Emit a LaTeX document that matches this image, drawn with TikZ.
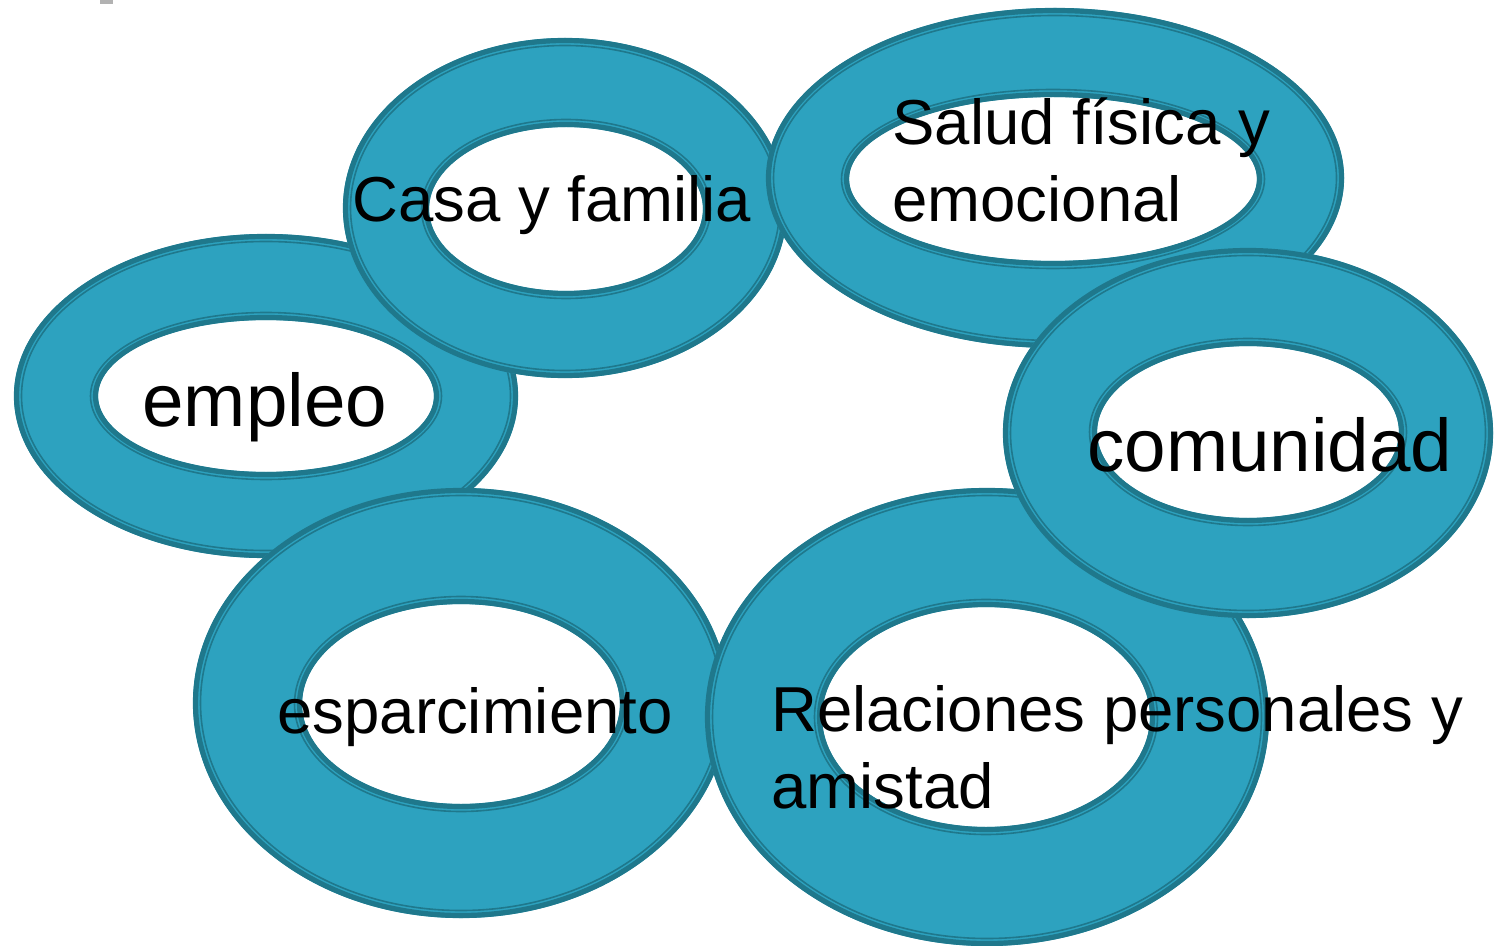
\documentclass[tikz,border=0pt]{standalone}
\usepackage{fontspec}
\setmainfont{Liberation Sans}
\usepackage{tikz}
\usetikzlibrary{positioning}
\definecolor{ringteal}{HTML}{2DA2BF}
\definecolor{ringdark}{HTML}{1F788C}
\tikzset{
  ringfill/.style={fill=ringteal, even odd rule},
  ringedge/.style={draw=ringdark, line width=2.6pt},
  ringline/.style={draw=ringdark, line width=0.8pt},
  smalltext/.style={anchor=base west, inner sep=0pt, align=left, font=\fontsize{31.75}{38.5}\selectfont},
  bigtext/.style={anchor=base west, inner sep=0pt, font=\fontsize{37.3}{44}\selectfont}
}

\begin{document}
\begin{tikzpicture}[x=0.5pt, y=-0.5pt]
				\useasboundingbox (0,0) rectangle (1497,946);
				\fill[gray!60] (100,0) rectangle (113,4);
				% empleo
				\fill[ringfill] (266,396) ellipse (252 and 162) (266,396) ellipse (168 and 76);
				\draw[ringedge] (266,396) ellipse (249.5 and 159.5) (266,396) ellipse (170.5 and 78.5);
				\draw[ringline] (266,396) ellipse (244.5 and 154.5) (266,396) ellipse (175.5 and 83.5);
				% casa y familia
				\fill[ringfill] (565,208) ellipse (222 and 170) (566,209) ellipse (137 and 82);
				\draw[ringedge] (565,208) ellipse (219.5 and 167.5) (566,209) ellipse (139.5 and 84.5);
				\draw[ringline] (565,208) ellipse (214.5 and 162.5) (566,209) ellipse (144.5 and 89.5);
				% salud
				\fill[ringfill] (1055,178) ellipse (289 and 170) (1053,179) ellipse (204 and 82);
				\draw[ringedge] (1055,178) ellipse (286.5 and 167.5) (1053,179) ellipse (206.5 and 84.5);
				\draw[ringline] (1055,178) ellipse (281.5 and 162.5) (1053,179) ellipse (211.5 and 89.5);
				% esparcimiento
				\fill[ringfill] (461,703) ellipse (268 and 215) (461,704) ellipse (159 and 100);
				\draw[ringedge] (461,703) ellipse (265.5 and 212.5) (461,704) ellipse (161.5 and 102.5);
				\draw[ringline] (461,703) ellipse (260.5 and 207.5) (461,704) ellipse (166.5 and 107.5);
				% relaciones
				\fill[ringfill] (987,717) ellipse (282 and 229) (986,717) ellipse (164 and 110);
				\draw[ringedge] (987,717) ellipse (279.5 and 226.5) (986,717) ellipse (166.5 and 112.5);
				\draw[ringline] (987,717) ellipse (274.5 and 221.5) (986,717) ellipse (171.5 and 117.5);
				% comunidad
				\fill[ringfill] (1248,433) ellipse (245 and 185) (1248,432) ellipse (151 and 86);
				\draw[ringedge] (1248,433) ellipse (242.5 and 182.5) (1248,432) ellipse (153.5 and 88.5);
				\draw[ringline] (1248,433) ellipse (237.5 and 177.5) (1248,432) ellipse (158.5 and 93.5);
				% texts
				\node[bigtext] (empleo) at (142,426) {empleo};
				\node[smalltext] (casa) at (352,222) {Casa y familia};
				\node[smalltext] (salud) at (892,222) {Salud física y\\emocional};
				\node[bigtext] (comunidad) at (1087,471) {comunidad};
				\node[smalltext] (esparcimiento) at (277,733) {esparcimiento};
				\node[smalltext] (relaciones) at (771,808) {Relaciones personales y\\amistad};
			\end{tikzpicture}
\end{document}
